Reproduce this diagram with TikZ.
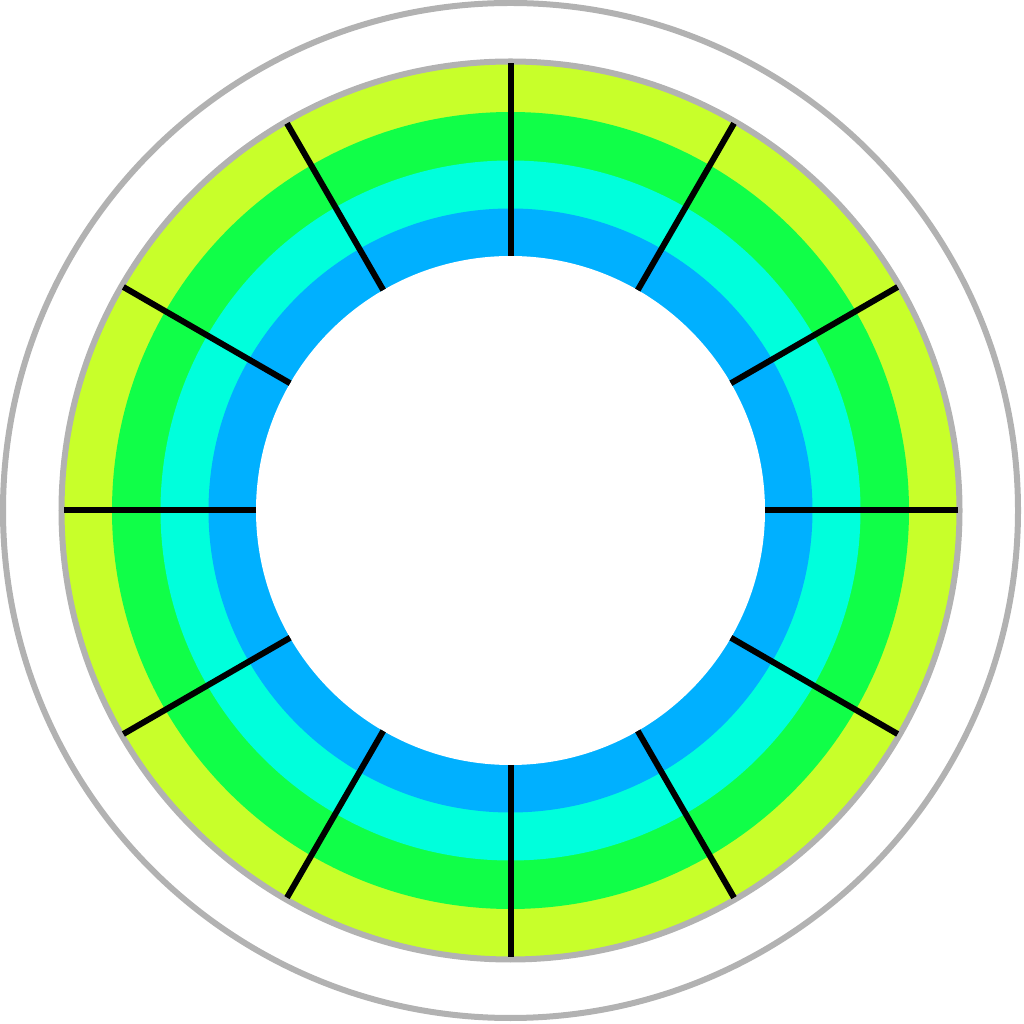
\documentclass[tikz,border=0pt]{standalone}
\usetikzlibrary{calc}
\definecolor{ringgray}{RGB}{178,178,178}
\definecolor{ringlime}{RGB}{200,255,42}
\definecolor{ringgreen}{RGB}{16,255,72}
\definecolor{ringcyan}{RGB}{0,255,220}
\definecolor{ringblue}{RGB}{0,176,255}
\begin{document}
\begin{tikzpicture}[x=0.01cm,y=0.01cm]
\useasboundingbox (0,0) rectangle (1024,1024);
\coordinate (c) at (510.5,513.5);
\draw[ringgray, line width=0.06cm] (c) circle (507.5);

\fill[ringlime] (c) circle (449);
\fill[ringgreen] (c) circle (398.5);
\fill[ringcyan] (c) circle (350);
\fill[ringblue] (c) circle (302);
\fill[white] (c) circle (254.5);
\draw[ringgray, line width=0.06cm] (c) circle (449);

\foreach \a in {0,30,...,330}
  \draw[line width=0.06cm] ($(c)+(\a:254.5)$) -- ($(c)+(\a:447)$);
\end{tikzpicture}
\end{document}
